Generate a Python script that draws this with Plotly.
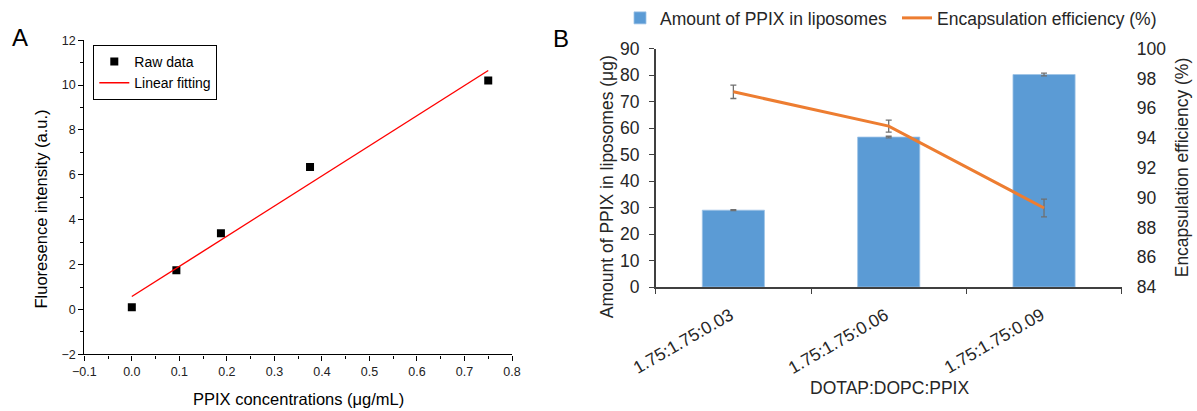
import plotly.graph_objects as go

W, H = 1197, 411
FONT = "Liberation Sans, Arial, sans-serif"

# ---------------- Panel A data ----------------
conc = [0.0, 0.09375, 0.1875, 0.375, 0.75]
intensity = [0.1, 1.75, 3.4, 6.35, 10.2]
fit_x = [0.0, 0.75]
fit_y = [0.58, 10.65]

# ---------------- Panel B data ----------------
ratios = ["1.75:1.75:0.03", "1.75:1.75:0.06", "1.75:1.75:0.09"]
amount = [29.0, 56.6, 80.2]
amount_err = [0.2, 0.3, 0.5]
efficiency = [97.1, 94.8, 89.3]
efficiency_err = [0.45, 0.4, 0.6]


def px(x):
    return x / W


def py(y):
    return 1 - y / H


fig = go.Figure()

# Panel A
fig.add_trace(go.Scatter(
    x=conc, y=intensity, mode="markers", name="Raw data",
    marker=dict(symbol="square", size=8, color="black"),
    xaxis="x", yaxis="y", legend="legend"))
fig.add_trace(go.Scatter(
    x=fit_x, y=fit_y, mode="lines", name="Linear fitting",
    line=dict(color="red", width=1.4),
    xaxis="x", yaxis="y", legend="legend"))

# Panel B
fig.add_trace(go.Bar(
    x=ratios, y=amount, name="Amount of PPIX in liposomes",
    marker=dict(color="#5B9BD5", line=dict(color="#9DC3E6", width=0.8)),
    width=0.4,
    error_y=dict(type="data", array=amount_err, color="#707070",
                 thickness=1.3, width=3),
    xaxis="x2", yaxis="y2", legend="legend2"))
fig.add_trace(go.Scatter(
    x=ratios, y=efficiency, mode="lines", name="Encapsulation efficiency (%)",
    line=dict(color="#ED7D31", width=3),
    error_y=dict(type="data", array=efficiency_err, color="#707070",
                 thickness=1.3, width=3),
    xaxis="x2", yaxis="y3", legend="legend2"))

tickA = dict(family=FONT, size=12.5, color="#222222")
tickB = dict(family=FONT, size=17.5, color="#262626")


def ann(text, x, y, size, color="black", angle=0):
    return dict(text=text, x=px(x), y=py(y), xref="paper", yref="paper",
                xanchor="center", yanchor="middle", textangle=angle,
                showarrow=False, font=dict(family=FONT, size=size, color=color))


annotations = [
    ann("A", 20, 37, 24),
    ann("B", 561, 38, 24),
    ann("Fluoresence intensity (a.u.)", 41, 209, 16.5, angle=-90),
    ann("PPIX concentrations (\u03bcg/mL)", 298.6, 399, 16.5),
    ann("Amount of PPIX in liposomes (\u03bcg)", 606.7, 186, 17.5,
        "#262626", -90),
    ann("Encapsulation efficiency (%)", 1181.7, 167, 17.5, "#262626", -90),
    ann("DOTAP:DOPC:PPIX", 889, 388.3, 17.5, "#262626"),
]
# rotated category labels of panel B, placed on the category axis
for r in ratios:
    annotations.append(dict(
        text=r, x=r, xref="x2", y=py(301), yref="paper",
        xanchor="right", yanchor="top", xshift=6, textangle=-30,
        showarrow=False, font=dict(family=FONT, size=17.5, color="#262626")))

fig.update_layout(
    width=W, height=H, autosize=False,
    margin=dict(l=0, r=0, t=0, b=0),
    paper_bgcolor="white", plot_bgcolor="white",
    font=dict(family=FONT, color="#222222"),
    bargap=0.6,
    xaxis=dict(
        domain=[px(84.3), px(512)], range=[-0.1, 0.8], dtick=0.1,
        tickformat=".1f", showgrid=False, zeroline=False,
        showline=True, linecolor="black", linewidth=1.3,
        ticks="outside", ticklen=5, tickwidth=1.3, tickcolor="black",
        minor=dict(ticks="outside", dtick=0.05, ticklen=3, tickwidth=1.2,
                   tickcolor="black"),
        tickfont=tickA, anchor="y", automargin=False),
    yaxis=dict(
        domain=[py(354.3), py(39.3)], range=[-2, 12], dtick=2,
        showgrid=False, zeroline=False,
        showline=True, linecolor="black", linewidth=1.3,
        ticks="outside", ticklen=5, tickwidth=1.3, tickcolor="black",
        minor=dict(ticks="outside", dtick=1, ticklen=3, tickwidth=1.2,
                   tickcolor="black"),
        tickfont=tickA, anchor="x", automargin=False),
    xaxis2=dict(
        domain=[px(655.7), px(1121.7)], type="category", range=[-0.5, 2.5],
        showgrid=False, zeroline=False,
        showline=True, linecolor="#404040", linewidth=1.5,
        ticks="outside", tickson="boundaries", ticklen=5, tickwidth=1.3,
        tickcolor="#404040", showticklabels=False,
        anchor="y2", automargin=False),
    yaxis2=dict(
        domain=[py(286.7), py(47.7)], range=[0, 90], dtick=10,
        showgrid=False, zeroline=False,
        showline=True, linecolor="#404040", linewidth=1.5,
        ticks="outside", ticklen=5, tickwidth=1.3, tickcolor="#404040",
        ticklabelstandoff=6,
        tickfont=tickB, anchor="x2", automargin=False),
    yaxis3=dict(
        domain=[py(286.7), py(47.7)], range=[84, 100], dtick=2,
        overlaying="y2", side="right", anchor="x2",
        showgrid=False, zeroline=False, showline=False, ticks="",
        ticklabelstandoff=14,
        tickfont=tickB, automargin=False),
    legend=dict(
        x=px(93.3), y=py(45), xanchor="left", yanchor="top",
        bgcolor="white", bordercolor="black", borderwidth=1,
        font=dict(family=FONT, size=14, color="black"),
        tracegroupgap=0, itemwidth=30),
    legend2=dict(
        orientation="h", x=px(620), y=py(17), xanchor="left",
        yanchor="middle", bgcolor="rgba(0,0,0,0)",
        font=dict(family=FONT, size=17.5, color="#262626"),
        entrywidthmode="pixels", entrywidth=232),
    annotations=annotations,
)

fig.write_html(
    "out.html",
    config={"displayModeBar": False},
    post_script="document.body.style.margin='0';document.body.style.overflow='hidden';")
